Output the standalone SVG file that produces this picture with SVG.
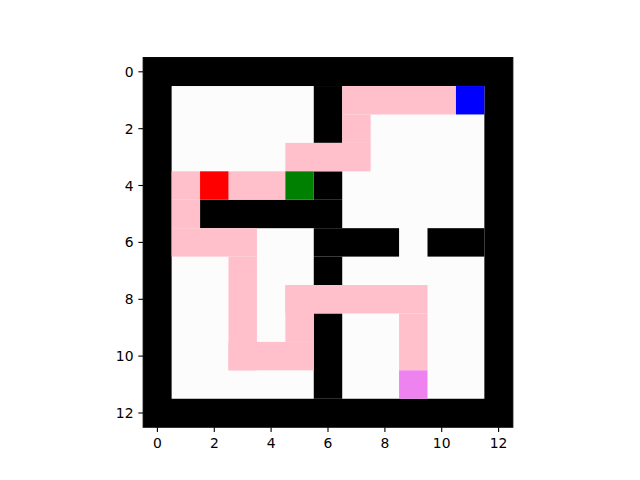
<svg xmlns="http://www.w3.org/2000/svg" width="640" height="480" viewBox="0 0 640 480">
<style>
.w{fill:#fcfcfc}.k{fill:#000}.p{fill:#ffc0cb}
.tick{stroke:#000;stroke-width:1.1}
.lbl{font-family:"DejaVu Sans",sans-serif;font-size:13.9px;fill:#000}
</style>
<rect width="640" height="480" fill="#fff"/>
<g id="maze" transform="translate(143.2,57.6) scale(28.43)">
<rect class="k" x="0" y="0" width="13" height="13"/>
<rect class="w" x="1" y="1" width="11" height="11"/>
<g id="walls">
<rect class="k" x="6" y="1" width="1" height="2"/>
<rect class="k" x="6" y="4" width="1" height="1"/>
<rect class="k" x="2" y="5" width="5" height="1"/>
<rect class="k" x="6" y="6" width="3" height="1"/>
<rect class="k" x="10" y="6" width="2" height="1"/>
<rect class="k" x="6" y="7" width="1" height="1"/>
<rect class="k" x="6" y="9" width="1" height="3"/>
</g>
<g id="path">
<rect class="p" x="7" y="1" width="4" height="1"/>
<rect class="p" x="7" y="2" width="1" height="1"/>
<rect class="p" x="5" y="3" width="3" height="1"/>
<rect class="p" x="1" y="4" width="1" height="1"/>
<rect class="p" x="3" y="4" width="2" height="1"/>
<rect class="p" x="1" y="5" width="1" height="1"/>
<rect class="p" x="1" y="6" width="3" height="1"/>
<rect class="p" x="3" y="7" width="1" height="4"/>
<rect class="p" x="3" y="10" width="3" height="1"/>
<rect class="p" x="5" y="8" width="1" height="2"/>
<rect class="p" x="5" y="8" width="5" height="1"/>
<rect class="p" x="9" y="9" width="1" height="2"/>
</g>
<rect id="red" x="2" y="4" width="1" height="1" fill="#ff0000"/>
<rect id="green" x="5" y="4" width="1" height="1" fill="#008000"/>
<rect id="blue" x="11" y="1" width="1" height="1" fill="#0000ff"/>
<rect id="violet" x="9" y="11" width="1" height="1" fill="#ee82ee"/>
</g>
<rect x="143.2" y="57.6" width="369.6" height="369.6" fill="none" stroke="#000" stroke-width="1.1"/>
<g id="yaxis">
<line class="tick" x1="138.3" y1="71.8" x2="143.2" y2="71.8"/>
<line class="tick" x1="138.3" y1="128.7" x2="143.2" y2="128.7"/>
<line class="tick" x1="138.3" y1="185.5" x2="143.2" y2="185.5"/>
<line class="tick" x1="138.3" y1="242.4" x2="143.2" y2="242.4"/>
<line class="tick" x1="138.3" y1="299.3" x2="143.2" y2="299.3"/>
<line class="tick" x1="138.3" y1="356.1" x2="143.2" y2="356.1"/>
<line class="tick" x1="138.3" y1="413.0" x2="143.2" y2="413.0"/>
<g class="lbl" text-anchor="end">
<text x="133.5" y="76.8">0</text>
<text x="133.5" y="133.7">2</text>
<text x="133.5" y="190.5">4</text>
<text x="133.5" y="247.4">6</text>
<text x="133.5" y="304.3">8</text>
<text x="133.5" y="361.1">10</text>
<text x="133.5" y="418.0">12</text>
</g>
</g>
<g id="xaxis">
<line class="tick" x1="157.4" y1="427.2" x2="157.4" y2="432.1"/>
<line class="tick" x1="214.3" y1="427.2" x2="214.3" y2="432.1"/>
<line class="tick" x1="271.1" y1="427.2" x2="271.1" y2="432.1"/>
<line class="tick" x1="328.0" y1="427.2" x2="328.0" y2="432.1"/>
<line class="tick" x1="384.9" y1="427.2" x2="384.9" y2="432.1"/>
<line class="tick" x1="441.7" y1="427.2" x2="441.7" y2="432.1"/>
<line class="tick" x1="498.6" y1="427.2" x2="498.6" y2="432.1"/>
<g class="lbl" text-anchor="middle">
<text x="157.4" y="447.5">0</text>
<text x="214.3" y="447.5">2</text>
<text x="271.1" y="447.5">4</text>
<text x="328.0" y="447.5">6</text>
<text x="384.9" y="447.5">8</text>
<text x="441.7" y="447.5">10</text>
<text x="498.6" y="447.5">12</text>
</g>
</g>
</svg>
